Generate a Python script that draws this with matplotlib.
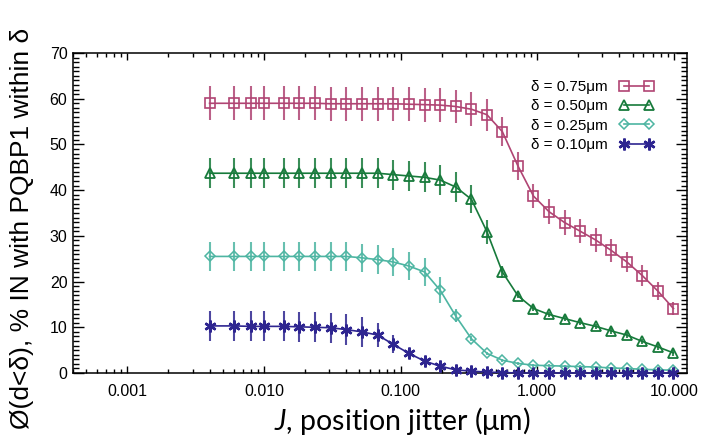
import matplotlib
matplotlib.use("Agg")
import matplotlib.pyplot as plt
from matplotlib.ticker import LogLocator, FixedLocator, MultipleLocator, FixedFormatter

plt.rcParams['font.family'] = ['Liberation Sans', 'DejaVu Sans']
plt.rcParams['mathtext.fontset'] = 'custom'
plt.rcParams['mathtext.it'] = 'Lato:italic'
plt.rcParams['mathtext.rm'] = 'Lato'

jitter = [0.004, 0.006, 0.008, 0.010, 0.0140, 0.0181, 0.0236, 0.0307, 0.040, 0.052,
          0.068, 0.088, 0.115, 0.150, 0.195, 0.253, 0.330, 0.429, 0.556, 0.723,
          0.94, 1.22, 1.59, 2.07, 2.68, 3.49, 4.53, 5.89, 7.66, 9.95]

phi_075 = [59.0, 59.0, 59.0, 59.0, 59.0, 59.0, 59.0, 58.9, 58.9, 58.9,
           58.9, 58.9, 58.8, 58.7, 58.6, 58.3, 57.7, 56.5, 52.8, 45.3,
           38.7, 35.3, 32.9, 31.0, 29.1, 26.8, 24.3, 21.3, 17.9, 14.1]
err_075 = [3.7] * 17 + [3.5, 3.1, 3.1, 2.7, 2.7, 2.8, 2.6, 2.6, 2.5, 2.1, 2.3, 2.0, 1.4]

phi_050 = [43.7, 43.7, 43.7, 43.7, 43.7, 43.7, 43.7, 43.7, 43.7, 43.7,
           43.7, 43.4, 43.1, 42.8, 42.2, 40.7, 38.0, 30.9, 22.1, 16.9,
           14.1, 12.8, 11.9, 11.0, 10.2, 9.2, 8.3, 6.9, 5.7, 4.4]
err_050 = [3.3] * 15 + [3.2, 3.1, 2.6, 1.3] + [0.6] * 11

phi_025 = [25.5, 25.5, 25.5, 25.5, 25.5, 25.5, 25.5, 25.5, 25.5, 25.2,
           24.8, 24.3, 23.4, 22.1, 18.1, 12.5, 7.5, 4.3, 2.8, 2.1,
           1.7, 1.6, 1.5, 1.4, 1.3, 1.1, 1.0, 0.8, 0.7, 0.6]
err_025 = [3.1] * 14 + [2.8, 1.4, 0.6] + [0.3] * 13

phi_010 = [10.3, 10.3, 10.2, 10.2, 10.2, 10.1, 10.0, 9.9, 9.5, 9.0,
           8.3, 6.3, 4.3, 2.6, 1.5, 0.7, 0.4, 0.2, 0.1, 0.0,
           0.0, 0.0, 0.0, 0.0, 0.0, 0.0, 0.0, 0.0, 0.0, 0.0]
err_010 = [3.3] * 10 + [2.7, 2.0, 1.0, 0.6] + [0.3] * 16

labels = ["δ = 0.75μm", "δ = 0.50μm", "δ = 0.25μm", "δ = 0.10μm"]
colors = ["#B04473", "#177A3B", "#4DB5A2", "#2E2590"]
markers = ["s", "^", "D", (6, 2, 0)]
msizes = [7.0, 7.5, 5.5, 8.5]
mews = [1.2, 1.3, 1.1, 1.8]

series = [(phi_075, err_075), (phi_050, err_050), (phi_025, err_025), (phi_010, err_010)]

fig = plt.figure(figsize=(7.16, 4.45), dpi=100)
ax = fig.add_axes([73 / 716, 1 - 373 / 445, (687 - 73) / 716, (373 - 53) / 445])

handles = []
for (vals, errs), lab, col, mk, ms, mew in zip(series, labels, colors, markers, msizes, mews):
    ax.errorbar(jitter, vals, yerr=errs, fmt='none', ecolor=col, elinewidth=1.5,
                capsize=0, alpha=0.85, zorder=2, clip_on=False)
    h, = ax.plot(jitter, vals, color=col, lw=1.2, marker=mk, ms=ms, mew=mew,
                 mfc='none', mec=col, label=lab, zorder=3, clip_on=False)
    handles.append(h)

ax.set_xscale('log')
ax.set_xlim(0.0004, 12.5)
ax.set_ylim(0, 70)

ax.xaxis.set_major_locator(FixedLocator([0.001, 0.01, 0.1, 1, 10]))
ax.xaxis.set_major_formatter(FixedFormatter(["0.001", "0.010", "0.100", "1.000", "10.000"]))
ax.xaxis.set_minor_locator(LogLocator(base=10, subs=[2, 3, 4, 5, 6, 7, 8, 9], numticks=20))
ax.yaxis.set_major_locator(MultipleLocator(10))
ax.yaxis.set_minor_locator(MultipleLocator(1))

ax.tick_params(axis='both', which='both', direction='in', top=True, right=True,
               labelsize=11.5, width=1.0, colors='black')
ax.tick_params(axis='y', which='major', length=8, pad=4)
ax.tick_params(axis='y', which='minor', length=4)
ax.tick_params(axis='x', which='major', length=5, pad=8)
ax.tick_params(axis='x', which='minor', length=3)
for s in ax.spines.values():
    s.set_linewidth(1.1)

fig.text(402 / 716, 1 - 421 / 445, r"$J$, position jitter ($\mathrm{\mu}$m)", fontsize=20.5,
         family=['Lato', 'DejaVu Sans'], ha='center', va='center')
fig.text(22 / 716, 1 - 228 / 445, "Ø(d<δ), % IN with PQBP1 within δ", rotation=90,
         ha='center', va='center', fontsize=19)

leg = ax.legend(handles=handles, loc='upper right', bbox_to_anchor=(0.955, 0.935),
                frameon=False, markerfirst=False, numpoints=2, fontsize=11,
                handlelength=2.2, handletextpad=0.8, labelspacing=0.35, borderaxespad=0)

fig.savefig("out.png", dpi=100)
